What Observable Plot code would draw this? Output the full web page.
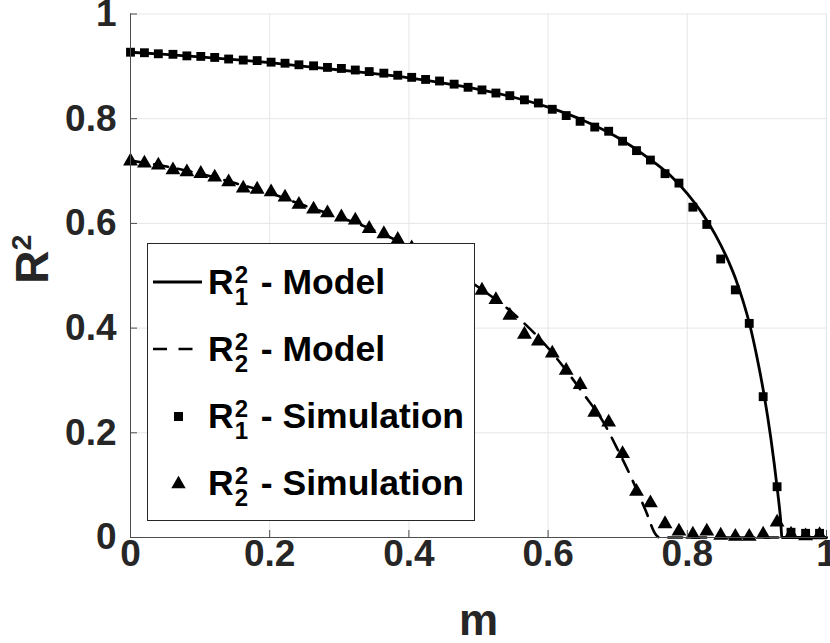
<!DOCTYPE html>
<html>
<head>
<meta charset="utf-8">
<script src="https://cdn.jsdelivr.net/npm/d3@7"></script>
<script src="https://cdn.jsdelivr.net/npm/@observablehq/plot@0.6"></script>
<style>
  html, body { margin: 0; padding: 0; background: #fff; }
  #wrap { position: relative; width: 830px; height: 643px; overflow: hidden;
          font-family: "Liberation Sans", Arial, Helvetica, sans-serif; font-weight: bold; }
  #legend { position: absolute; left: 147px; top: 243px; width: 328px; height: 278px;
            border: 1px solid #262626; background: #fff; box-sizing: border-box; }
  .row { position: absolute; left: 0; height: 60px; width: 100%; }
  .row svg { position: absolute; left: 0; top: 0; }
  .lbl { position: absolute; left: 60px; top: 0; height: 60px; line-height: 60px;
         font-size: 35.5px; color: #000; white-space: nowrap; }
  .ss { display: inline-flex; flex-direction: column; vertical-align: middle;
        font-size: 24px; line-height: 22px; margin-left: 1px; margin-right: 3px; position: relative; top: 1px; }
</style>
</head>
<body>
<div id="wrap">
  <div id="chart"></div>
  <div id="legend"></div>
</div>
<script>
// ---- data ----
const mSim = [0.000, 0.020, 0.040, 0.061, 0.081, 0.101, 0.121, 0.141, 0.162, 0.182,
              0.202, 0.222, 0.242, 0.263, 0.283, 0.303, 0.323, 0.343, 0.364, 0.384,
              0.404, 0.424, 0.444, 0.465, 0.485, 0.505, 0.525, 0.545, 0.566, 0.586,
              0.606, 0.626, 0.646, 0.667, 0.687, 0.707, 0.727, 0.747, 0.768, 0.788,
              0.808, 0.828, 0.848, 0.869, 0.889, 0.909, 0.929, 0.949, 0.970, 0.990];
const r1Sim = [0.927, 0.926, 0.924, 0.923, 0.920, 0.919, 0.917, 0.914, 0.912, 0.911,
               0.908, 0.906, 0.903, 0.901, 0.898, 0.896, 0.893, 0.890, 0.887, 0.883,
               0.879, 0.875, 0.872, 0.866, 0.860, 0.855, 0.849, 0.844, 0.836, 0.830,
               0.818, 0.806, 0.795, 0.784, 0.776, 0.757, 0.739, 0.721, 0.695, 0.677,
               0.631, 0.598, 0.532, 0.473, 0.409, 0.269, 0.097, 0.010, 0.008, 0.008];
const r2Sim = [0.719, 0.715, 0.711, 0.702, 0.698, 0.695, 0.688, 0.679, 0.667, 0.665,
               0.660, 0.650, 0.636, 0.627, 0.620, 0.612, 0.606, 0.590, 0.580, 0.569,
               0.553, 0.537, 0.521, 0.505, 0.489, 0.472, 0.454, 0.424, 0.388, 0.375,
               0.352, 0.319, 0.292, 0.239, 0.220, 0.160, 0.088, 0.066, 0.026, 0.012,
               0.006, 0.012, 0.004, 0.002, 0.002, 0.006, 0.029, 0.006, 0.003, 0.005];

const mModel1 = [0, 0.05, 0.1, 0.15, 0.2, 0.25, 0.3, 0.35, 0.4, 0.45, 0.5, 0.55, 0.6, 0.65, 0.7,
                 0.75, 0.78, 0.8, 0.82, 0.84, 0.86, 0.87, 0.88, 0.89, 0.9, 0.91, 0.92, 0.925,
                 0.93, 0.934, 0.936, 0.96, 1.0];
const r1Model = [0.927, 0.923, 0.918, 0.913, 0.907, 0.900, 0.893, 0.886, 0.878, 0.868, 0.856,
                 0.841, 0.822, 0.797, 0.764, 0.719, 0.686, 0.657, 0.622, 0.579, 0.525, 0.492,
                 0.452, 0.405, 0.345, 0.275, 0.190, 0.140, 0.085, 0.035, 0, 0, 0];
const mModel2 = [0, 0.05, 0.1, 0.15, 0.2, 0.25, 0.3, 0.35, 0.4, 0.45, 0.5, 0.55, 0.6, 0.65,
                 0.68, 0.7, 0.72, 0.74, 0.755, 0.76, 1.0];
const r2Model = [0.720, 0.709, 0.695, 0.677, 0.658, 0.634, 0.612, 0.587, 0.556, 0.520, 0.478,
                 0.428, 0.362, 0.276, 0.219, 0.168, 0.113, 0.052, 0.005, 0, 0];

const ticks = [0, 0.2, 0.4, 0.6, 0.8, 1];
const xLabel = "m";
const yLabelBase = "R";
const yLabelSup = "2";
const legendEntries = [
  {sub: "1", text: "- Model", kind: "solid"},
  {sub: "2", text: "- Model", kind: "dashed"},
  {sub: "1", text: "- Simulation", kind: "square"},
  {sub: "2", text: "- Simulation", kind: "triangle"}
];

// ---- build tables ----
const sim = mSim.map((m, i) => ({m, r1: r1Sim[i], r2: r2Sim[i]}));
const model1 = mModel1.map((m, i) => ({m, v: r1Model[i]}));
const model2 = mModel2.map((m, i) => ({m, v: r2Model[i]}));

const fmt = d3.format("~g");
const axisColor = "#4d4d4d";
const textColor = "#262626";

const chart = Plot.plot({
  width: 830,
  height: 643,
  marginLeft: 130,
  marginRight: 4,
  marginTop: 13.5,
  marginBottom: 106,
  style: {fontFamily: "'Liberation Sans', Arial, Helvetica, sans-serif", fontWeight: "bold", color: textColor, background: "#fff"},
  x: {domain: [0, 1]},
  y: {domain: [0, 1]},
  marks: [
    Plot.gridX(ticks, {stroke: "#e6e6e6", strokeOpacity: 1, strokeWidth: 1}),
    Plot.gridY(ticks, {stroke: "#e6e6e6", strokeOpacity: 1, strokeWidth: 1}),
    Plot.line(model1, {x: "m", y: "v", stroke: "#000", strokeWidth: 2.8, curve: "monotone-x"}),
    Plot.line(model2, {x: "m", y: "v", stroke: "#000", strokeWidth: 2.6, strokeDasharray: "14,10", curve: "monotone-x"}),
    Plot.dot(sim, {x: "m", y: "r1", symbol: "square", r: 5, fill: "#000", stroke: null}),
    Plot.dot(sim, {x: "m", y: "r2", symbol: "triangle", r: 5.5, fill: "#000", stroke: null}),
    Plot.ruleX([0], {stroke: axisColor, strokeWidth: 1}),
    Plot.ruleY([0], {stroke: axisColor, strokeWidth: 1}),
    Plot.axisX(ticks, {tickSize: -7, tickPadding: 9, stroke: axisColor, fill: textColor, fontSize: 37, tickFormat: fmt, label: null}),
    Plot.axisY(ticks, {tickSize: -7, tickPadding: 21, stroke: axisColor, fill: textColor, fontSize: 37, tickFormat: fmt, label: null}),
    Plot.text([xLabel], {frameAnchor: "bottom", dy: 83, fontSize: 44, fontWeight: "bold", fill: textColor, lineAnchor: "middle"}),
    Plot.text([yLabelBase], {frameAnchor: "left", dx: -97, dy: 8, rotate: -90, fontSize: 46, fontWeight: "bold", fill: textColor, lineAnchor: "middle"})
  ]
});
// superscript on the y label
d3.select(chart).selectAll("text")
  .filter(function() { return this.textContent === yLabelBase && this.getAttribute("transform") && this.getAttribute("transform").includes("rotate"); })
  .append("tspan").attr("font-size", "0.62em").attr("dy", "-0.62em").text(yLabelSup);
document.getElementById("chart").appendChild(chart);

// ---- legend ----
const legend = document.getElementById("legend");
const rowTops = [8, 75, 142, 209];
legendEntries.forEach((e, i) => {
  const row = document.createElement("div");
  row.className = "row";
  row.style.top = rowTops[i] + "px";
  let sample = "";
  if (e.kind === "solid") sample = '<line x1="5" y1="30" x2="54" y2="30" stroke="#000" stroke-width="2.8"/>';
  if (e.kind === "dashed") sample = '<line x1="5" y1="30" x2="54" y2="30" stroke="#000" stroke-width="2.6" stroke-dasharray="14,11.5"/>';
  if (e.kind === "square") sample = '<rect x="26" y="26" width="9" height="9" fill="#000"/>';
  if (e.kind === "triangle") {
    const s = d3.symbol(d3.symbolTriangle, 90)();
    sample = `<path d="${s}" transform="translate(30.5,31)" fill="#000"/>`;
  }
  row.innerHTML = `<svg width="60" height="60">${sample}</svg>` +
    `<span class="lbl">R<span class="ss"><span>2</span><span>${e.sub}</span></span> ${e.text}</span>`;
  legend.appendChild(row);
});
</script>
</body>
</html>
